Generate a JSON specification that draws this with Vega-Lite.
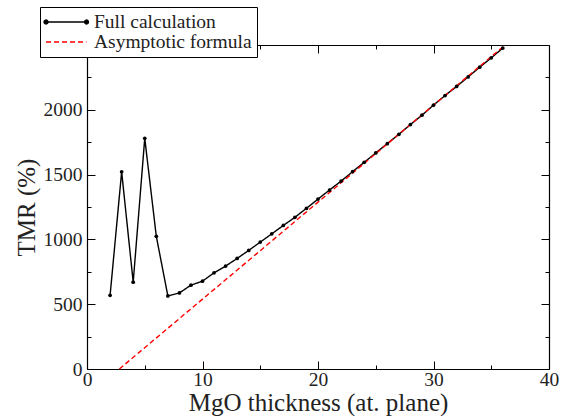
{
  "$schema": "https://vega.github.io/schema/vega-lite/v6.json",
  "width": 462,
  "height": 324,
  "autosize": "none",
  "padding": {"left": 87, "top": 45, "right": 28, "bottom": 47},
  "background": "white",
  "config": {
    "font": "Liberation Serif",
    "view": {"stroke": null},
    "axis": {
      "grid": false,
      "domainColor": "black",
      "domainWidth": 1.2,
      "tickColor": "black",
      "tickWidth": 1,
      "labelColor": "#222",
      "titleColor": "#222",
      "labelFont": "Liberation Serif",
      "titleFont": "Liberation Serif",
      "labelFontSize": 19.5,
      "titleFontSize": 25,
      "titleFontWeight": "normal",
      "labelFlush": false,
      "labelOverlap": false
    }
  },
  "data": {
    "values": [
      {"series": "Full calculation", "x": 2, "y": 569},
      {"series": "Full calculation", "x": 3, "y": 1522},
      {"series": "Full calculation", "x": 4, "y": 670},
      {"series": "Full calculation", "x": 5, "y": 1780},
      {"series": "Full calculation", "x": 6, "y": 1024},
      {"series": "Full calculation", "x": 7, "y": 564},
      {"series": "Full calculation", "x": 8, "y": 587},
      {"series": "Full calculation", "x": 9, "y": 647},
      {"series": "Full calculation", "x": 10, "y": 678},
      {"series": "Full calculation", "x": 11, "y": 742},
      {"series": "Full calculation", "x": 12, "y": 794},
      {"series": "Full calculation", "x": 13, "y": 853},
      {"series": "Full calculation", "x": 14, "y": 915},
      {"series": "Full calculation", "x": 15, "y": 979},
      {"series": "Full calculation", "x": 16, "y": 1043},
      {"series": "Full calculation", "x": 17, "y": 1108},
      {"series": "Full calculation", "x": 18, "y": 1170},
      {"series": "Full calculation", "x": 19, "y": 1240},
      {"series": "Full calculation", "x": 20, "y": 1311},
      {"series": "Full calculation", "x": 21, "y": 1381},
      {"series": "Full calculation", "x": 22, "y": 1450},
      {"series": "Full calculation", "x": 23, "y": 1523},
      {"series": "Full calculation", "x": 24, "y": 1595},
      {"series": "Full calculation", "x": 25, "y": 1667},
      {"series": "Full calculation", "x": 26, "y": 1739},
      {"series": "Full calculation", "x": 27, "y": 1811},
      {"series": "Full calculation", "x": 28, "y": 1886},
      {"series": "Full calculation", "x": 29, "y": 1958},
      {"series": "Full calculation", "x": 30, "y": 2036},
      {"series": "Full calculation", "x": 31, "y": 2110},
      {"series": "Full calculation", "x": 32, "y": 2180},
      {"series": "Full calculation", "x": 33, "y": 2254},
      {"series": "Full calculation", "x": 34, "y": 2329},
      {"series": "Full calculation", "x": 35, "y": 2401},
      {"series": "Full calculation", "x": 36, "y": 2476},
      {"series": "Asymptotic formula", "x": 2.8, "y": 0},
      {"series": "Asymptotic formula", "x": 36.2, "y": 2500}
    ]
  },
  "resolve": {"axis": {"x": "independent", "y": "independent"}},
  "layer": [
    {
      "mark": {"type": "line", "strokeWidth": 1.4, "clip": true},
      "encoding": {
        "x": {
          "field": "x", "type": "quantitative",
          "scale": {"domain": [0, 40], "nice": false, "zero": false},
          "axis": {"orient": "bottom", "title": "MgO thickness (at. plane)", "values": [0, 10, 20, 30, 40], "format": "d", "tickSize": -8, "labelPadding": 9, "titlePadding": 2}
        },
        "y": {
          "field": "y", "type": "quantitative",
          "scale": {"domain": [0, 2500], "nice": false, "zero": false},
          "axis": {"orient": "left", "title": "TMR (%)", "values": [0, 500, 1000, 1500, 2000], "format": "d", "tickSize": -8, "labelPadding": 13, "titlePadding": 4}
        },
        "color": {
          "field": "series", "type": "nominal",
          "scale": {"domain": ["Full calculation", "Asymptotic formula"], "range": ["black", "#ff0000"]},
          "legend": {
            "title": null,
            "orient": "none",
            "legendX": -47,
            "legendY": -38,
            "fillColor": "white",
            "strokeColor": "black",
            "padding": 5,
            "rowPadding": -4,
            "labelFont": "Liberation Serif",
            "labelFontSize": 19.5,
            "labelColor": "#222",
            "labelOffset": 29,
            "symbolSize": 324,
            "symbolStrokeWidth": 1.3,
            "encode": {
              "symbols": {
                "update": {
                  "shape": {"signal": "datum.value === 'Full calculation' ? 'M-1,0L3.5,0M-1.22,0a0.22,0.22 0 1,0 0.44,0a0.22,0.22 0 1,0 -0.44,0M3.28,0a0.22,0.22 0 1,0 0.44,0a0.22,0.22 0 1,0 -0.44,0' : 'M-1,0L3.5,0'"},
                  "fill": {"signal": "datum.value === 'Full calculation' ? 'black' : 'transparent'"}
                }
              }
            }
          }
        },
        "strokeDash": {
          "field": "series", "type": "nominal",
          "scale": {"domain": ["Full calculation", "Asymptotic formula"], "range": [[1, 0], [5, 3]]},
          "legend": null
        }
      }
    },
    {
      "transform": [{"filter": "datum.series === 'Full calculation'"}],
      "mark": {"type": "point", "filled": true, "size": 14, "color": "black", "opacity": 1},
      "encoding": {
        "x": {"field": "x", "type": "quantitative", "axis": {"orient": "top", "labels": false, "title": null, "values": [0, 10, 20, 30, 40], "tickSize": -8}},
        "y": {"field": "y", "type": "quantitative", "axis": {"orient": "right", "labels": false, "title": null, "values": [0, 500, 1000, 1500, 2000], "tickSize": -8}}
      }
    },
    {
      "transform": [{"filter": "datum.series === 'Full calculation'"}],
      "mark": {"type": "point", "opacity": 0},
      "encoding": {
        "x": {"field": "x", "type": "quantitative", "axis": {"orient": "bottom", "labels": false, "title": null, "domain": false, "values": [5, 15, 25, 35], "tickSize": -4}},
        "y": {"field": "y", "type": "quantitative", "axis": {"orient": "left", "labels": false, "title": null, "domain": false, "values": [250, 750, 1250, 1750, 2250], "tickSize": -4}}
      }
    },
    {
      "transform": [{"filter": "datum.series === 'Full calculation'"}],
      "mark": {"type": "point", "opacity": 0},
      "encoding": {
        "x": {"field": "x", "type": "quantitative", "axis": {"orient": "top", "labels": false, "title": null, "domain": false, "values": [5, 15, 25, 35], "tickSize": -4}},
        "y": {"field": "y", "type": "quantitative", "axis": {"orient": "right", "labels": false, "title": null, "domain": false, "values": [250, 750, 1250, 1750, 2250], "tickSize": -4}}
      }
    }
  ]
}
